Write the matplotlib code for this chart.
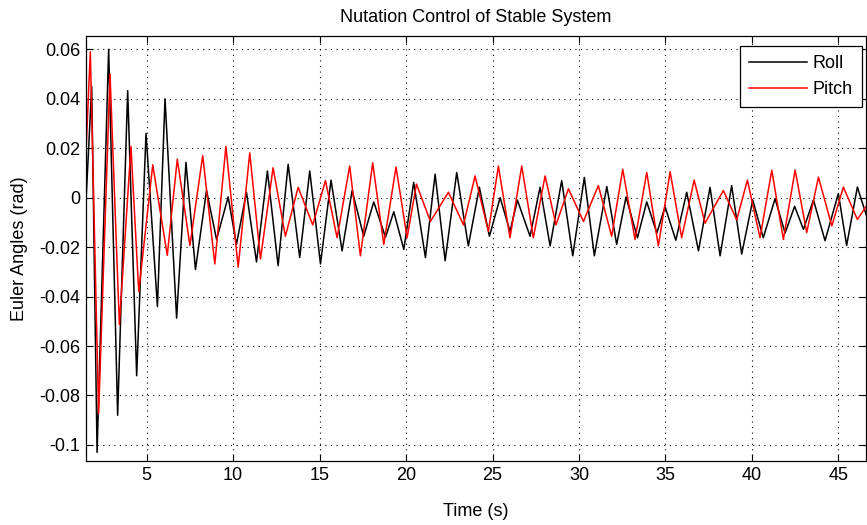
import matplotlib
matplotlib.use("Agg")
import matplotlib.pyplot as plt

# ---- data (extrema of each trace) ----
roll_t = [1.50, 1.82, 2.13, 2.80, 3.32, 3.90, 4.42, 4.96, 5.62, 6.06, 6.73, 7.27, 7.82,
          8.46, 9.04, 9.71, 10.19, 10.77, 11.35, 11.98, 12.60, 13.18, 13.85, 14.43,
          15.05, 15.66, 16.30, 16.88, 17.55, 18.13, 18.81, 19.29, 19.87, 20.44, 21.12,
          21.68, 22.26, 22.93, 23.60, 24.24, 24.82, 25.44, 26.01, 26.44, 27.17, 27.75,
          28.33, 29.00, 29.64, 30.31, 30.89, 31.61, 32.18, 32.72, 33.38, 33.92, 34.50,
          34.98, 35.60, 36.23, 36.91, 37.58, 38.16, 38.83, 39.41, 40.05, 40.66, 41.34,
          41.92, 42.47, 42.98, 43.56, 44.23, 45.00, 45.48, 46.10, 46.66]
roll_v = [0.000, 0.045, -0.103, 0.060, -0.088, 0.0433, -0.072, 0.026, -0.044, 0.040, -0.0487, 0.0143, -0.029,
          0.0029, -0.0169, 0.0003, -0.0189, 0.0022, -0.026, 0.0108, -0.0275, 0.0135, -0.0242, 0.0108,
          -0.0268, 0.0071, -0.0215, 0.0029, -0.0156, -0.0017, -0.016, -0.0057, -0.0209, 0.0062, -0.0242,
          0.0095, -0.0255, 0.0102, -0.0195, 0.0042, -0.0156, 0.0000, -0.0136, -0.0010, -0.0156, 0.0042,
          -0.0195, 0.0069, -0.0235, 0.0082, -0.0235, 0.0045, -0.0189, 0.0003, -0.0162, -0.0017, -0.0143,
          -0.0037, -0.0172, 0.0022, -0.0215, 0.0042, -0.0235, 0.0049, -0.0228, -0.0010, -0.0162, -0.0004,
          -0.0143, -0.0035, -0.0128, -0.0009, -0.0174, 0.0017, -0.0193, 0.0043, -0.008]

pitch_t = [1.50, 1.74, 2.22, 2.88, 3.42, 4.09, 4.54, 5.35, 6.19, 6.77, 7.50, 8.24, 8.94,
           9.58, 10.29, 10.96, 11.58, 12.31, 13.02, 13.76, 14.60, 15.34, 16.01, 16.74,
           17.36, 18.07, 18.71, 19.42, 20.06, 20.60, 21.41, 22.45, 23.32, 23.99, 24.76,
           25.34, 26.01, 26.69, 27.36, 28.04, 28.67, 29.39, 30.26, 31.12, 31.89, 32.53,
           33.24, 33.92, 34.59, 35.27, 35.94, 36.66, 37.29, 38.35, 39.12, 39.74, 40.47,
           41.15, 41.82, 42.50, 43.17, 43.85, 44.62, 45.29, 46.10, 46.66]
pitch_v = [0.020, 0.059, -0.0873, 0.050, -0.0513, 0.0207, -0.038, 0.0133, -0.0233, 0.0156, -0.0193, 0.0170, -0.0268,
           0.0207, -0.0281, 0.0181, -0.0248, 0.0121, -0.0156, 0.0042, -0.011, 0.0069, -0.0162, 0.0128,
           -0.0235, 0.0141, -0.0189, 0.0124, -0.0162, 0.0055, -0.0096, 0.0022, -0.011, 0.0088, -0.0136,
           0.0128, -0.0162, 0.0128, -0.0162, 0.0088, -0.011, 0.0036, -0.0096, 0.0049, -0.0156, 0.0115,
           -0.0169, 0.0102, -0.0195, 0.0105, -0.0162, 0.0071, -0.0103, 0.0029, -0.009, 0.0071, -0.0162,
           0.0111, -0.0169, 0.0112, -0.0141, 0.0083, -0.0114, 0.0043, -0.0088, -0.003]

xticks = [5, 10, 15, 20, 25, 30, 35, 40, 45]
xtick_labels = ["5", "10", "15", "20", "25", "30", "35", "40", "45"]
yticks = [-0.1, -0.08, -0.06, -0.04, -0.02, 0, 0.02, 0.04, 0.06]
ytick_labels = ["-0.1", "-0.08", "-0.06", "-0.04", "-0.02", "0", "0.02", "0.04", "0.06"]

plt.rcParams['font.family'] = ['Liberation Sans', 'DejaVu Sans']
FS = 13

W, H = 867, 525
fig = plt.figure(figsize=(W / 100, H / 100), dpi=100)
fig.patch.set_facecolor("white")
ax = fig.add_axes([86 / W, 64 / H, (865.5 - 86) / W, (489 - 64) / H])

ax.plot(roll_t, roll_v, color="black", lw=1.1, label="Roll", solid_joinstyle="round")
ax.plot(pitch_t, pitch_v, color="red", lw=1.1, label="Pitch", solid_joinstyle="round")

ax.set_xlim(1.49, 46.57)
ax.set_ylim(-0.1065, 0.0654)
ax.set_xticks(xticks)
ax.set_xticklabels(xtick_labels)
ax.set_yticks(yticks)
ax.set_yticklabels(ytick_labels)

ax.grid(True, color="black", linestyle=(0, (1, 4)), linewidth=0.8)
ax.tick_params(direction="in", length=5, width=0.8, top=True, right=True,
               labelsize=FS, colors="black")
ax.tick_params(axis="y", pad=4)
ax.tick_params(axis="x", pad=4)
for s in ax.spines.values():
    s.set_linewidth(0.9)
    s.set_color("black")

ax.set_xlabel("Time (s)", fontsize=FS)
ax.xaxis.set_label_coords(0.5, (H - 503 - 64) / (489 - 64))
ax.set_ylabel("Euler Angles (rad)", fontsize=FS)
ax.yaxis.set_label_coords((28 - 86) / (865.5 - 86), 0.5)
ax.set_title("Nutation Control of Stable System", fontsize=FS, pad=10)

leg = ax.legend(loc="upper right", bbox_to_anchor=(862 / W, (H - 46) / H),
                bbox_transform=fig.transFigure, borderaxespad=0,
                fontsize=FS, frameon=True, fancybox=False,
                edgecolor="black", framealpha=1, borderpad=0.5, handlelength=3.2,
                handletextpad=0.35, labelspacing=0.5)
leg.get_frame().set_linewidth(0.9)

fig.savefig("out.png", dpi=100, facecolor="white")
